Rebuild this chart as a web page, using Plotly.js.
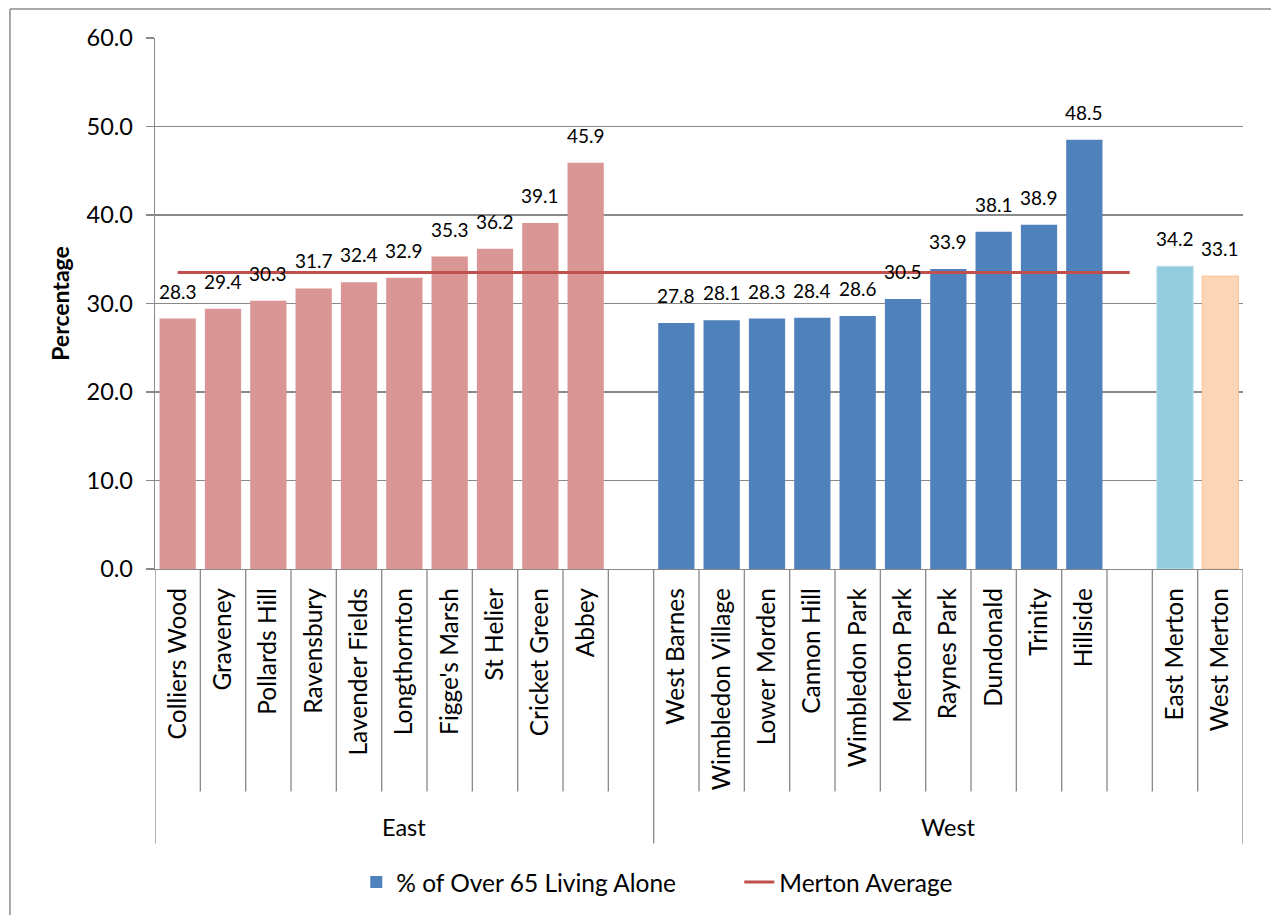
<!DOCTYPE html>
<html><head><meta charset="utf-8">
<script src="https://cdn.plot.ly/plotly-3.0.1.min.js"></script>
<style>html,body{margin:0;padding:0;background:#fff}</style>
</head><body><div id="chart" style="width:1271px;height:915px"></div>
<script>
const eastWards = ["Colliers Wood","Graveney","Pollards Hill","Ravensbury","Lavender Fields","Longthornton","Figge's Marsh","St Helier","Cricket Green","Abbey"];
const eastValues = [28.3,29.4,30.3,31.7,32.4,32.9,35.3,36.2,39.1,45.9];
const westWards = ["West Barnes","Wimbledon Village","Lower Morden","Cannon Hill","Wimbledon Park","Merton Park","Raynes Park","Dundonald","Trinity","Hillside"];
const westValues = [27.8,28.1,28.3,28.4,28.6,30.5,33.9,38.1,38.9,48.5];
const areaNames = ["East Merton","West Merton"];
const areaValues = [34.2,33.1];
const mertonAverage = 33.5;
const groupNames = ["East","West"];
const yTicks = [0,10,20,30,40,50,60];
const seriesName = "% of Over 65 Living Alone";
const averageName = "Merton Average";

const eastBlank = " ", westBlank = "  ";
const allCats = [...eastWards, eastBlank, ...westWards, westBlank, ...areaNames];
const groupRanges = [[0, eastWards.length], [eastWards.length + 1, allCats.length - 1]];

const FONT = "Lato, 'Open Sans', sans-serif";
const GRID = "#898989";

const traces = [
  {type:"bar", x:eastWards, y:eastValues, marker:{color:"#D99694"}, showlegend:false},
  {type:"bar", x:westWards, y:westValues, name:seriesName, marker:{color:"#4F81BD"}, legendrank:1},
  {type:"bar", x:[areaNames[0]], y:[areaValues[0]], marker:{color:"#93CDDD", line:{color:"#B7DEE8", width:1}}, showlegend:false},
  {type:"bar", x:[areaNames[1]], y:[areaValues[1]], marker:{color:"#FBD5B5", line:{color:"#FAC090", width:1}}, showlegend:false},
  {type:"scatter", mode:"lines", x:[allCats[0], westBlank], y:[mertonAverage, mertonAverage], name:averageName, line:{color:"#C0504D", width:3}, legendrank:2}
];

const annotations = [];
const addLabels = (cats, vals) => cats.forEach((c, i) => annotations.push({
  x:c, y:vals[i], xref:"x", yref:"y", text:vals[i].toFixed(1), showarrow:false,
  yanchor:"bottom", yshift:14, font:{family:FONT, size:19, color:"#000"}
}));
addLabels(eastWards, eastValues);
addLabels(westWards, westValues);
addLabels(areaNames, areaValues);

groupNames.forEach((g, k) => annotations.push({
  x:(groupRanges[k][0] + groupRanges[k][1]) / 2, xref:"x", y:-0.485, yref:"paper",
  text:g, showarrow:false, yanchor:"middle", font:{family:FONT, size:23.5, color:"#000"}
}));

const shapes = [];
const groupBounds = new Set([groupRanges[0][0], groupRanges[1][0], allCats.length]);
for (let i = 0; i <= allCats.length; i++) {
  shapes.push({type:"line", xref:"x", yref:"paper", x0:i - 0.5, x1:i - 0.5, y0:0,
    y1: groupBounds.has(i) ? -0.517 : -0.419, line:{color:GRID, width:1.3}, layer:"above"});
}
// outer chart frame
shapes.push({type:"line", xref:"paper", yref:"paper", x0:-0.1333, x1:-0.1333, y0:1.0545, y1:-0.66, line:{color:"#8c8c8c", width:1.5}});
shapes.push({type:"line", xref:"paper", yref:"paper", x0:-0.1333, x1:1.03, y0:1.0545, y1:1.0545, line:{color:"#8c8c8c", width:1.5}});

const layout = {
  width:1271, height:915, autosize:false,
  margin:{l:155, r:28, t:38, b:345, pad:0},
  paper_bgcolor:"#fff", plot_bgcolor:"#fff",
  font:{family:FONT, color:"#000"},
  barmode:"overlay", bargap:0.2,
  showlegend:true,
  legend:{orientation:"h", x:0.185, xanchor:"left", y:-0.5865, yanchor:"middle",
    font:{family:FONT, size:24.5, color:"#000"}, entrywidth:338, traceorder:"normal"},
  xaxis:{type:"category", categoryorder:"array", categoryarray:allCats, range:[-0.5, allCats.length - 0.5],
    showline:true, linecolor:GRID, linewidth:1.3, ticks:"", tickangle:-90,
    tickfont:{family:FONT, size:24.5, color:"#000"}, ticklabelstandoff:8, showgrid:false, fixedrange:true},
  yaxis:{range:[0,60], tickvals:yTicks, tickformat:".1f", showgrid:true, gridcolor:GRID, gridwidth:1.2,
    showline:true, linecolor:GRID, linewidth:1.3, ticks:"outside", ticklen:8, tickcolor:GRID, tickwidth:1.3,
    tickfont:{family:FONT, size:23.5, color:"#000"}, ticklabelstandoff:8, zeroline:false,
    title:{text:"<b>Percentage</b>", font:{family:FONT, size:23, color:"#000"}, standoff:10}},
  annotations, shapes
};

Plotly.newPlot("chart", traces, layout, {displayModeBar:false, staticPlot:true});
</script></body></html>
